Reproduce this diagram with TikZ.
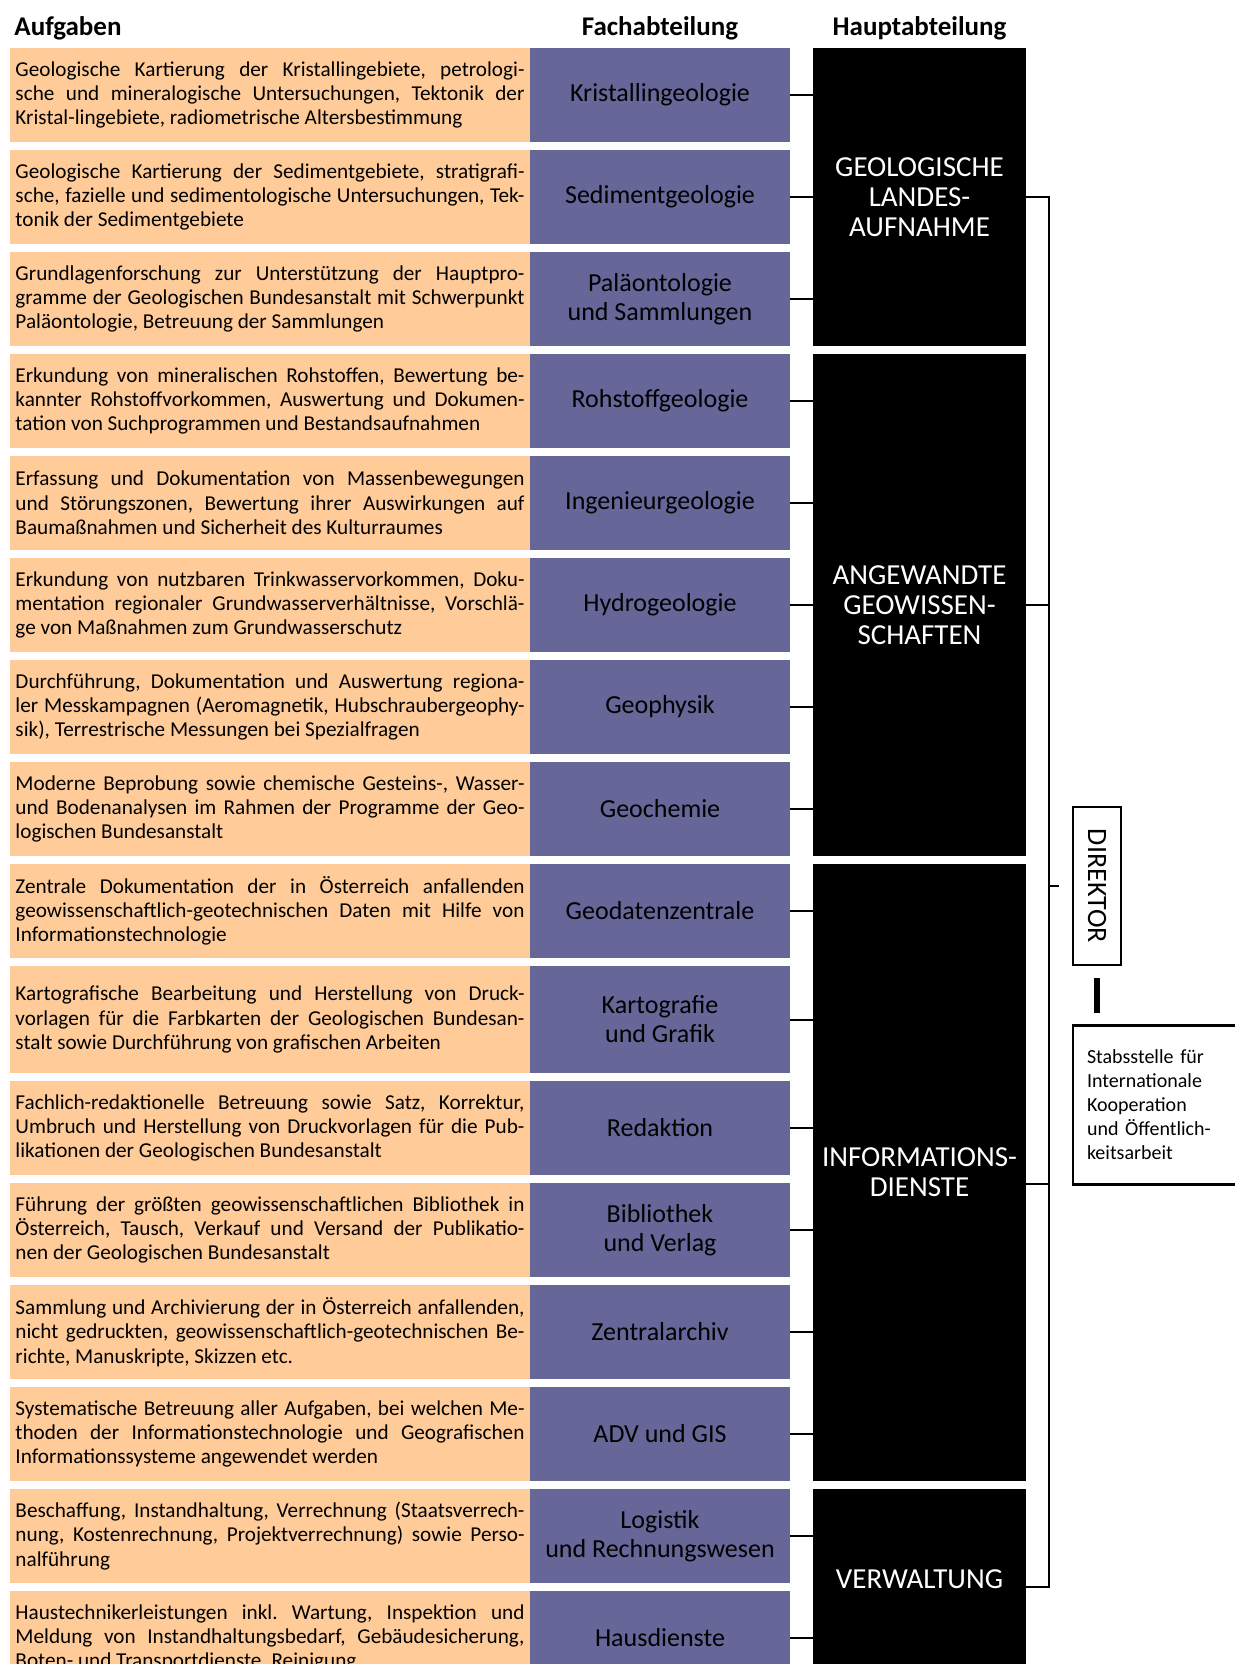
\documentclass[tikz,border=0pt]{standalone}
\usepackage{fontspec}
\setmainfont{Carlito}
\usepackage{graphicx}
\usetikzlibrary{fit,positioning}
\definecolor{taskfill}{HTML}{FFCC99}
\definecolor{deptfill}{HTML}{666699}
\tolerance=9999
\hyphenpenalty=10000
\frenchspacing

\begin{document}
\begin{tikzpicture}[
  x=0.5pt, y=-0.5pt,
  task/.style={fill=taskfill, text width=254.5pt, inner xsep=2.75pt, inner ysep=0pt,
    outer sep=0pt, minimum height=47pt, align=justify,
    font=\fontsize{10.6}{12.15}\selectfont},
  dept/.style={fill=deptfill, minimum width=130pt, minimum height=47pt, inner sep=0pt,
    outer sep=0pt, align=center, font=\fontsize{13}{14.5}\selectfont},
  haupt/.style={fill=black, inner sep=0pt, outer sep=0pt},
  hauptname/.style={text=white, inner sep=0pt, align=center,
    font=\fontsize{14.5}{15}\selectfont},
  head/.style={font=\fontsize{13.5}{16}\selectfont\bfseries, inner sep=0pt},
  chief/.style={draw, line width=1.2pt, inner sep=0pt, minimum width=24pt,
    minimum height=79pt, font=\fontsize{14}{16}\selectfont},
  staff/.style={draw, line width=1.2pt, text width=80pt, inner xsep=7pt,
    minimum height=79.5pt, align=left, font=\fontsize{10}{12}\selectfont},
  link/.style={line width=1pt}
]
  \useasboundingbox (0,0) rectangle (1235,1664);

  % Aufgaben and Fachabteilungen, one row each
  \node[task, anchor=north west] (a1) at (10,48) {Geologische Kartierung der Kristallingebiete, petrologi-\linebreak sche und mineralogische Untersuchungen, Tektonik der\linebreak Kristal-lingebiete, radiometrische Altersbestimmung};
  \node[dept, right=0pt of a1] (f1) {Kristallingeologie};
  \node[task, below=4pt of a1] (a2) {Geologische Kartierung der Sedimentgebiete, stratigrafi-\linebreak sche, fazielle und sedimentologische Untersuchungen, Tek-\linebreak tonik der Sedimentgebiete};
  \node[dept, right=0pt of a2] (f2) {Sedimentgeologie};
  \node[task, below=4pt of a2] (a3) {Grundlagenforschung zur Unterstützung der Hauptpro-\linebreak gramme der Geologischen Bundesanstalt mit Schwerpunkt\linebreak Paläontologie, Betreuung der Sammlungen};
  \node[dept, right=0pt of a3] (f3) {Paläontologie\\und Sammlungen};
  \node[task, below=4pt of a3] (a4) {Erkundung von mineralischen Rohstoffen, Bewertung be-\linebreak kannter Rohstoffvorkommen, Auswertung und Dokumen-\linebreak tation von Suchprogrammen und Bestandsaufnahmen};
  \node[dept, right=0pt of a4] (f4) {Rohstoffgeologie};
  \node[task, below=4pt of a4] (a5) {Erfassung und Dokumentation von Massenbewegungen\linebreak und Störungszonen, Bewertung ihrer Auswirkungen auf\linebreak Baumaßnahmen und Sicherheit des Kulturraumes};
  \node[dept, right=0pt of a5] (f5) {Ingenieurgeologie};
  \node[task, below=4pt of a5] (a6) {Erkundung von nutzbaren Trinkwasservorkommen, Doku-\linebreak mentation regionaler Grundwasserverhältnisse, Vorschlä-\linebreak ge von Maßnahmen zum Grundwasserschutz};
  \node[dept, right=0pt of a6] (f6) {Hydrogeologie};
  \node[task, below=4pt of a6] (a7) {Durchführung, Dokumentation und Auswertung regiona-\linebreak ler Messkampagnen (Aeromagnetik, Hubschraubergeophy-\linebreak sik), Terrestrische Messungen bei Spezialfragen};
  \node[dept, right=0pt of a7] (f7) {Geophysik};
  \node[task, below=4pt of a7] (a8) {Moderne Beprobung sowie chemische Gesteins-, Wasser-\linebreak und Bodenanalysen im Rahmen der Programme der Geo-\linebreak logischen Bundesanstalt};
  \node[dept, right=0pt of a8] (f8) {Geochemie};
  \node[task, below=4pt of a8] (a9) {Zentrale Dokumentation der in Österreich anfallenden\linebreak geowissenschaftlich-geotechnischen Daten mit Hilfe von\linebreak Informationstechnologie};
  \node[dept, right=0pt of a9] (f9) {Geodatenzentrale};
  \node[task, below=4pt of a9, minimum height=53.5pt] (a10) {Kartografische Bearbeitung und Herstellung von Druck-\linebreak vorlagen für die Farbkarten der Geologischen Bundesan-\linebreak stalt sowie Durchführung von grafischen Arbeiten};
  \node[dept, right=0pt of a10, minimum height=53.5pt] (f10) {Kartografie\\und Grafik};
  \node[task, below=4pt of a10] (a11) {Fachlich-redaktionelle Betreuung sowie Satz, Korrektur,\linebreak Umbruch und Herstellung von Druckvorlagen für die Pub-\linebreak likationen der Geologischen Bundesanstalt};
  \node[dept, right=0pt of a11] (f11) {Redaktion};
  \node[task, below=4pt of a11] (a12) {Führung der größten geowissenschaftlichen Bibliothek in\linebreak Österreich, Tausch, Verkauf und Versand der Publikatio-\linebreak nen der Geologischen Bundesanstalt};
  \node[dept, right=0pt of a12] (f12) {Bibliothek\\und Verlag};
  \node[task, below=4pt of a12] (a13) {Sammlung und Archivierung der in Österreich anfallenden,\linebreak nicht gedruckten, geowissenschaftlich-geotechnischen Be-\linebreak richte, Manuskripte, Skizzen etc.};
  \node[dept, right=0pt of a13] (f13) {Zentralarchiv};
  \node[task, below=4pt of a13] (a14) {Systematische Betreuung aller Aufgaben, bei welchen Me-\linebreak thoden der Informationstechnologie und Geografischen\linebreak Informationssysteme angewendet werden};
  \node[dept, right=0pt of a14] (f14) {ADV und GIS};
  \node[task, below=4pt of a14] (a15) {Beschaffung, Instandhaltung, Verrechnung (Staatsverrech-\linebreak nung, Kostenrechnung, Projektverrechnung) sowie Perso-\linebreak nalführung};
  \node[dept, right=0pt of a15] (f15) {Logistik\\und Rechnungswesen};
  \node[task, below=4pt of a15] (a16) {Haustechnikerleistungen inkl. Wartung, Inspektion und\linebreak Meldung von Instandhaltungsbedarf, Gebäudesicherung,\linebreak Boten- und Transportdienste, Reinigung};
  \node[dept, right=0pt of a16] (f16) {Hausdienste};

  % Hauptabteilungen span their rows
  \node[haupt, fit={([xshift=11.5pt]f1.north east) ([xshift=118pt]f3.south east)}] (gla) {};
  \node[haupt, fit={([xshift=11.5pt]f4.north east) ([xshift=118pt]f8.south east)}] (agw) {};
  \node[haupt, fit={([xshift=11.5pt]f9.north east) ([xshift=118pt]f14.south east)}] (inf) {};
  \node[haupt, fit={([xshift=11.5pt]f15.north east) ([xshift=118pt]f16.south east)}] (ver) {};
  \node[hauptname] (glaName) at (gla.center) {GEOLOGISCHE\\LANDES-\\AUFNAHME};
  \node[hauptname] (agwName) at (agw.center) {ANGEWANDTE\\GEOWISSEN-\\SCHAFTEN};
  \node[hauptname] (infName) at (inf.center) {INFORMATIONS-\\DIENSTE};
  \node[hauptname] (verName) at ([yshift=3.7pt]ver.center) {VERWALTUNG};

  \node[head, anchor=base west] (hTask) at ([shift={(2pt,6pt)}]a1.north west) {Aufgaben};
  \node[head, anchor=base] (hDept) at ([yshift=6pt]f1.north) {Fachabteilung};
  \node[head, anchor=base] (hMain) at ([yshift=6pt]gla.north) {Hauptabteilung};

  \draw[link] (f1.east) -- (f1.east -| gla.west) (f2.east) -- (f2.east -| gla.west)
    (f3.east) -- (f3.east -| gla.west);
  \draw[link] (f4.east) -- (f4.east -| agw.west) (f5.east) -- (f5.east -| agw.west)
    (f6.east) -- (f6.east -| agw.west) (f7.east) -- (f7.east -| agw.west)
    (f8.east) -- (f8.east -| agw.west);
  \draw[link] (f9.east) -- (f9.east -| inf.west) (f10.east) -- (f10.east -| inf.west)
    (f11.east) -- (f11.east -| inf.west) (f12.east) -- (f12.east -| inf.west)
    (f13.east) -- (f13.east -| inf.west) (f14.east) -- (f14.east -| inf.west);
  \draw[link] (f15.east) -- (f15.east -| ver.west) (f16.east) -- (f16.east -| ver.west);

  % bracket collecting the four Hauptabteilungen
  \coordinate[right=11.5pt of gla.east] (bus);
  \draw[link] (gla.east) -- (bus) -- (bus |- ver.east) -- (ver.east);
  \draw[link] (agw.east) -- (agw.east -| bus);
  \draw[link] ([yshift=-5.5pt]inf.east) -- ([yshift=-5.5pt]inf.east -| bus);

  \node[chief] (direktor) at (1097,886) {\rotatebox{-90}{DIREKTOR}};
  \coordinate (tickend) at ([xshift=5pt]direktor.west -| bus);
  \draw[link] (direktor.west -| bus) -- (tickend);

  \node[staff, below=29pt of direktor.south west, anchor=north west] (stab)
    {Stabsstelle für\\Internationale\\Kooperation\\und Öffentlich-\\keitsarbeit};
  \draw[line width=3pt, shorten <=6pt, shorten >=5.5pt] (direktor.south) -- (direktor.south |- stab.north);
\end{tikzpicture}
\end{document}
